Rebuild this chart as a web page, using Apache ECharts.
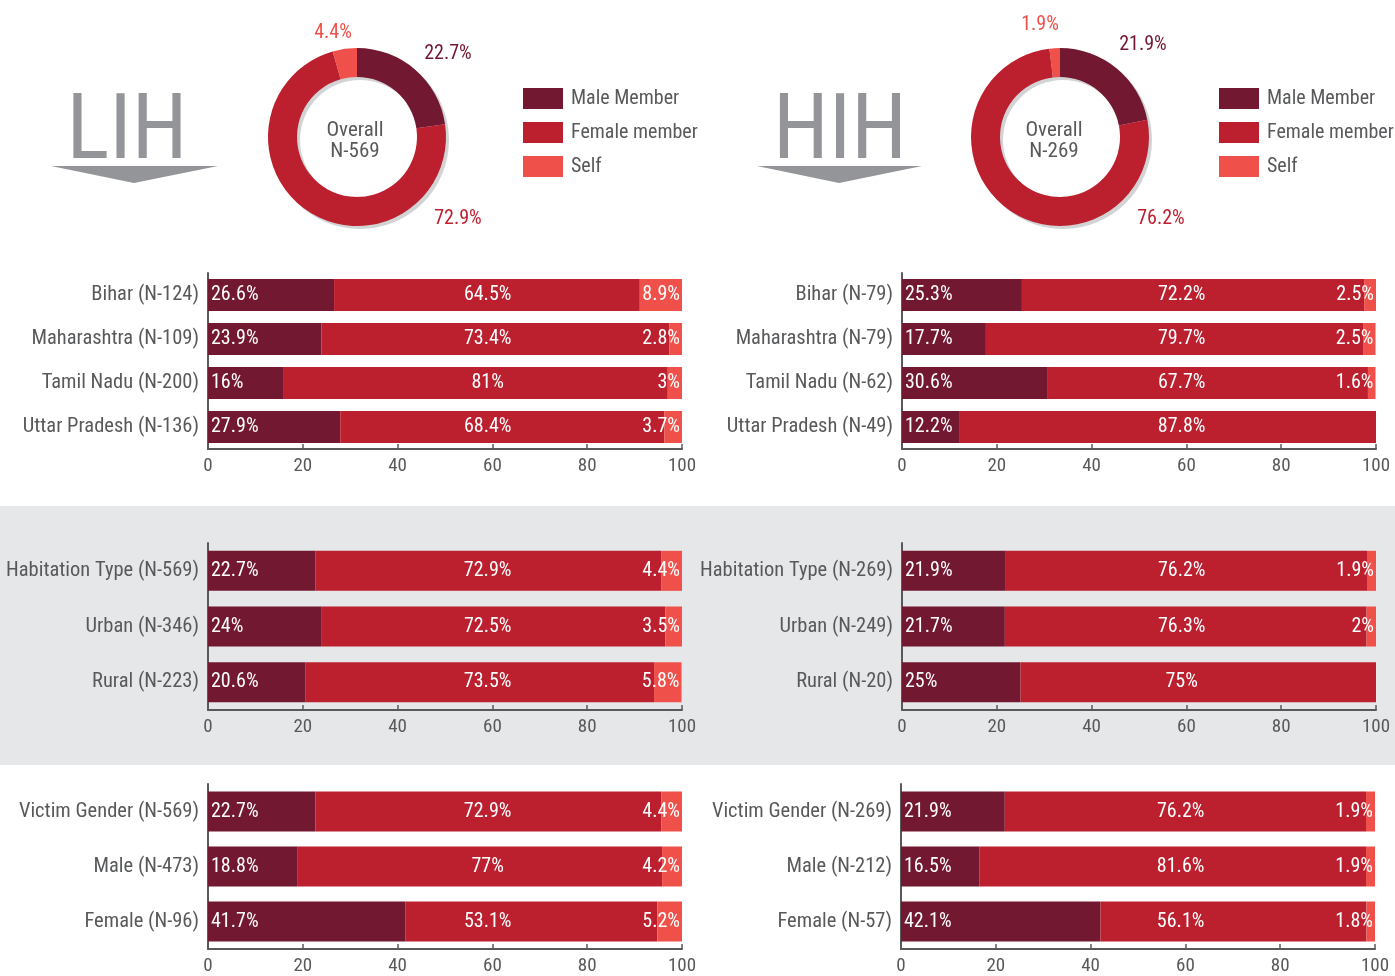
<!DOCTYPE html>
<html><head><meta charset="utf-8">
<script src="https://cdn.jsdelivr.net/npm/echarts@6/dist/echarts.min.js"></script>
<style>html,body{margin:0;padding:0;background:#fff}#c{width:1395px;height:976px}</style>
</head><body><div id="c"></div>
<script>
// ---- data ----
const seriesNames = ['Male Member', 'Female member', 'Self'];
const lihOverall = [22.7, 72.9, 4.4];
const hihOverall = [21.9, 76.2, 1.9];
const lihN = 569, hihN = 269;

const lihStateCats = ['Bihar (N-124)', 'Maharashtra (N-109)', 'Tamil Nadu (N-200)', 'Uttar Pradesh (N-136)'];
const lihStateMale = [26.6, 23.9, 16, 27.9];
const lihStateFemale = [64.5, 73.4, 81, 68.4];
const lihStateSelf = [8.9, 2.8, 3, 3.7];

const hihStateCats = ['Bihar (N-79)', 'Maharashtra (N-79)', 'Tamil Nadu (N-62)', 'Uttar Pradesh (N-49)'];
const hihStateMale = [25.3, 17.7, 30.6, 12.2];
const hihStateFemale = [72.2, 79.7, 67.7, 87.8];
const hihStateSelf = [2.5, 2.5, 1.6, 0];

const lihHabCats = ['Habitation Type (N-569)', 'Urban (N-346)', 'Rural (N-223)'];
const lihHabMale = [22.7, 24, 20.6];
const lihHabFemale = [72.9, 72.5, 73.5];
const lihHabSelf = [4.4, 3.5, 5.8];

const hihHabCats = ['Habitation Type (N-269)', 'Urban (N-249)', 'Rural (N-20)'];
const hihHabMale = [21.9, 21.7, 25];
const hihHabFemale = [76.2, 76.3, 75];
const hihHabSelf = [1.9, 2, 0];

const lihGenCats = ['Victim Gender (N-569)', 'Male (N-473)', 'Female (N-96)'];
const lihGenMale = [22.7, 18.8, 41.7];
const lihGenFemale = [72.9, 77, 53.1];
const lihGenSelf = [4.4, 4.2, 5.2];

const hihGenCats = ['Victim Gender (N-269)', 'Male (N-212)', 'Female (N-57)'];
const hihGenMale = [21.9, 16.5, 42.1];
const hihGenFemale = [76.2, 81.6, 56.1];
const hihGenSelf = [1.9, 1.9, 1.8];

const xTicks = [0, 20, 40, 60, 80, 100];

// ---- styles ----
const FONT = "'Roboto Condensed','Liberation Sans Narrow','Arial Narrow','DejaVu Sans Condensed',Roboto,sans-serif";
const C = ['#721831', '#BC1F2E', '#EF504A'];
const GREY = '#58595B';
const BIG = '#939598';

const panels = [
  {cats: lihStateCats, d: [lihStateMale, lihStateFemale, lihStateSelf], left: 208, top: 273, h: 176, bw: 32},
  {cats: hihStateCats, d: [hihStateMale, hihStateFemale, hihStateSelf], left: 902, top: 273, h: 176, bw: 32},
  {cats: lihHabCats, d: [lihHabMale, lihHabFemale, lihHabSelf], left: 208, top: 543, h: 167, bw: 40},
  {cats: hihHabCats, d: [hihHabMale, hihHabFemale, hihHabSelf], left: 902, top: 543, h: 167, bw: 40},
  {cats: lihGenCats, d: [lihGenMale, lihGenFemale, lihGenSelf], left: 208, top: 784, h: 167, bw: 40},
  {cats: hihGenCats, d: [hihGenMale, hihGenFemale, hihGenSelf], left: 901, top: 784, h: 167, bw: 40}
];

const grid = [], xAxis = [], yAxis = [], series = [];
const fmt = v => v + '%';
panels.forEach((p, i) => {
  grid.push({left: p.left, top: p.top, width: 474, height: p.h});
  xAxis.push({
    gridIndex: i, type: 'value', min: xTicks[0], max: xTicks[xTicks.length - 1], interval: 20,
    splitLine: {show: false},
    axisLine: {show: true, lineStyle: {color: GREY, width: 2}},
    axisTick: {show: true, inside: true, length: 5, lineStyle: {color: GREY, width: 1.5}},
    axisLabel: {color: GREY, fontSize: 19, fontFamily: FONT, margin: 8}
  });
  yAxis.push({
    gridIndex: i, type: 'category', data: p.cats, inverse: true,
    axisLine: {show: true, lineStyle: {color: GREY, width: 2}},
    axisTick: {show: false},
    axisLabel: {color: GREY, fontSize: 20.5, fontFamily: FONT, margin: 9}
  });
  p.d.forEach((arr, k) => {
    series.push({
      type: 'bar', name: seriesNames[k], stack: 's' + i, xAxisIndex: i, yAxisIndex: i,
      barWidth: p.bw, itemStyle: {color: C[k]},
      data: arr.map((v, j) => {
        const item = {value: v};
        let lab;
        if (k === 0) lab = {position: 'insideLeft', distance: 3};
        else if (k === 1) {
          const m = p.d[0][j];
          lab = {position: [((59 - m) / v * 100).toFixed(2) + '%', '50%'], align: 'center', verticalAlign: 'middle'};
        } else lab = {position: 'insideRight', distance: 2, show: v > 0};
        item.label = lab;
        return item;
      }),
      label: {show: true, color: '#fff', fontSize: 20, fontFamily: FONT, formatter: o => fmt(o.value)}
    });
  });
});

function donut(center, vals) {
  return [
    {type: 'pie', silent: true, z: 1, center: [center[0] + 3, center[1] + 3], radius: [60, 89],
      label: {show: false}, data: [{value: 1, name: '_s', itemStyle: {color: '#D1D3D4'}}]},
    {type: 'pie', silent: true, z: 2, center: center, radius: [60, 89], startAngle: 90, clockwise: true,
      label: {show: false}, labelLine: {show: false},
      data: vals.map((v, k) => ({value: v, name: seriesNames[k], itemStyle: {color: C[k]}}))}
  ];
}
series.push(...donut([357, 137], lihOverall), ...donut([1060, 137], hihOverall));

function txt(x, y, s, fill, size) {
  return {type: 'text', x: x, y: y, z: 10, style: {text: s, fill: fill, font: size + 'px ' + FONT, align: 'center', verticalAlign: 'middle', textAlign: 'center', textVerticalAlign: 'middle'}};
}
const graphic = [
  {type: 'rect', z: -10, shape: {x: 0, y: 506, width: 1395, height: 259}, style: {fill: '#E6E7E8'}},
  txt(127, 135, 'LIH', BIG, 90),
  {type: 'polygon', shape: {points: [[51, 166], [218, 166], [134, 183]]}, style: {fill: BIG}},
  txt(840, 135, 'HIH', BIG, 90),
  {type: 'polygon', shape: {points: [[757, 166], [922, 166], [839, 183]]}, style: {fill: BIG}},
  txt(355, 131, 'Overall', GREY, 21), txt(355, 152, 'N-' + lihN, GREY, 21),
  txt(1054, 131, 'Overall', GREY, 21), txt(1054, 152, 'N-' + hihN, GREY, 21),
  txt(333, 33, fmt(lihOverall[2]), C[2], 20), txt(448, 54, fmt(lihOverall[0]), C[0], 20), txt(458, 219, fmt(lihOverall[1]), C[1], 20),
  txt(1040, 25, fmt(hihOverall[2]), C[2], 20), txt(1143, 45, fmt(hihOverall[0]), C[0], 20), txt(1161, 219, fmt(hihOverall[1]), C[1], 20)
];

const legendBase = {orient: 'vertical', top: 88, padding: 0, itemWidth: 40, itemHeight: 21, itemGap: 13, icon: 'rect',
  data: seriesNames, selectedMode: false,
  textStyle: {color: GREY, fontSize: 20, fontFamily: FONT, padding: [0, 0, 0, 3]}};

const chart = echarts.init(document.getElementById('c'));
chart.setOption({
  animation: false,
  backgroundColor: '#fff',
  legend: [Object.assign({left: 523}, legendBase), Object.assign({left: 1219}, legendBase)],
  grid, xAxis, yAxis, series, graphic
});
</script></body></html>
